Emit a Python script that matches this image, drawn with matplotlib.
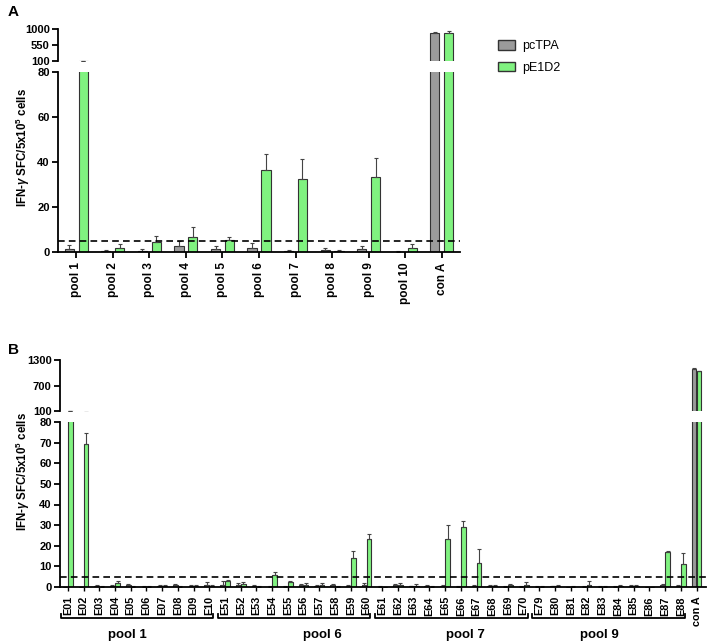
import numpy as np
import matplotlib.pyplot as plt
from matplotlib.patches import Patch
import matplotlib.transforms as mtransforms

plt.rcParams['font.family'] = ['Liberation Sans', 'DejaVu Sans']
plt.rcParams['font.weight'] = 'bold'
plt.rcParams['mathtext.fontset'] = 'custom'
plt.rcParams['mathtext.rm'] = 'Liberation Sans:bold'
plt.rcParams['mathtext.it'] = 'Liberation Sans:italic:bold'
plt.rcParams['mathtext.bf'] = 'Liberation Sans:bold'

# panel A data
pools_a = ["pool 1", "pool 2", "pool 3", "pool 4", "pool 5", "pool 6",
           "pool 7", "pool 8", "pool 9", "pool 10", "con A"]
tpa_a = [1.5, 0.5, 0.5, 2.5, 1.5, 2.0, 0.5, 1.0, 1.5, 0.2, 890]
tpa_a_err = [1.5, 0.5, 0.7, 2.5, 1.2, 2.0, 0.5, 0.8, 1.0, 0.3, 15]
e1d2_a = [110, 2.0, 4.5, 6.5, 5.5, 36.6, 32.6, 0.5, 33.4, 2.0, 880]
e1d2_a_err = [3, 1.5, 2.5, 4.5, 1.0, 7.0, 8.8, 0.5, 8.5, 1.5, 50]

# panel B data
peptides_b = ["E01", "E02", "E03", "E04", "E05", "E06", "E07", "E08", "E09", "E10",
              "E51", "E52", "E53", "E54", "E55", "E56", "E57", "E58", "E59", "E60",
              "E61", "E62", "E63", "E64", "E65", "E66", "E67", "E68", "E69", "E70",
              "E79", "E80", "E81", "E82", "E83", "E84", "E85", "E86", "E87", "E88",
              "con A"]
tpa_b = [0.0, 0.0, 0.5, 0.5, 1.0, 0.2, 0.5, 1.0, 0.3, 1.2,
         1.0, 1.0, 0.5, 0.2, 0.2, 1.0, 0.3, 1.0, 0.5, 1.0,
         0.2, 1.0, 0.3, 0.5, 0.5, 0.2, 0.5, 0.5, 0.2, 0.2,
         0.2, 0.3, 0.0, 0.2, 0.2, 0.2, 0.5, 0.0, 1.0, 0.5,
         1090]
tpa_b_err = [0.0, 0.0, 0.5, 0.5, 0.5, 0.2, 0.5, 0.5, 0.5, 1.0,
             2.0, 0.8, 0.5, 0.2, 0.3, 0.5, 0.5, 0.5, 0.7, 1.0,
             0.2, 0.5, 0.3, 0.5, 0.3, 0.2, 0.5, 0.5, 0.2, 0.2,
             0.2, 0.3, 0.0, 0.2, 0.2, 0.2, 0.5, 0.0, 0.5, 0.5,
             15]
e1d2_b = [103, 69.5, 0.2, 2.0, 0.2, 0.2, 0.5, 0.2, 0.5, 0.5,
          3.0, 1.5, 0.2, 5.8, 2.5, 1.0, 1.0, 0.2, 14.0, 23.3,
          0.0, 1.0, 0.5, 0.2, 23.3, 29.0, 11.6, 0.5, 1.0, 1.0,
          0.2, 0.5, 0.2, 1.2, 0.2, 0.5, 0.5, 0.0, 17.0, 11.2,
          1040]
e1d2_b_err = [1.0, 5.0, 0.2, 1.0, 0.2, 0.2, 0.5, 0.2, 0.5, 0.5,
              0.5, 1.0, 0.2, 1.5, 0.5, 1.0, 1.0, 0.2, 3.5, 2.4,
              0.0, 1.0, 1.0, 0.2, 6.7, 3.0, 6.8, 0.5, 0.5, 1.5,
              0.2, 0.3, 0.2, 1.5, 0.2, 0.3, 0.5, 0.0, 0.5, 5.3,
              10]
groups_b = ["pool 1", "pool 6", "pool 7", "pool 9"]

gray = "#9b9b9b"
green = "#80f280"
edge = "#333333"

fig = plt.figure(figsize=(7.08, 6.43), dpi=100)


def draw_bars(ax, x, a, a_err, b, b_err, off, w):
    for vals, errs, col, sign in [(a, a_err, gray, -1), (b, b_err, green, 1)]:
        xx = x + sign * off
        ax.bar(xx, vals, width=w, color=col, edgecolor=edge, linewidth=0.8, zorder=2)
        ax.errorbar(xx, vals, yerr=[np.zeros(len(vals)), errs], fmt="none",
                    ecolor="#444444", elinewidth=0.8, capsize=1.2, capthick=0.8, zorder=2)


def style(ax, top):
    for s in ["top", "right"]:
        ax.spines[s].set_visible(False)
    ax.spines["left"].set_linewidth(1.3)
    ax.tick_params(axis="y", width=1.3, length=4, labelsize=8, pad=2)
    if top:
        ax.spines["bottom"].set_visible(False)
        ax.set_xticks([])
    else:
        ax.spines["bottom"].set_linewidth(1.3)
        ax.tick_params(axis="x", width=1.3, length=4)


# ---------- panel A ----------
xa = np.arange(len(pools_a))
axa = fig.add_axes([58 / 708, 1 - 252 / 643, 402 / 708, 180 / 643])
axa_t = fig.add_axes([58 / 708, 1 - 61 / 643, 402 / 708, 32 / 643])
for ax in (axa, axa_t):
    draw_bars(ax, xa, tpa_a, tpa_a_err, e1d2_a, e1d2_a_err, 0.19, 0.25)
    ax.set_xlim(-0.5, 10.5)
axa.set_ylim(0, 80)
axa.set_yticks([0, 20, 40, 60, 80])
axa_t.set_ylim(100, 1000)
axa_t.set_yticks([100, 550, 1000])
style(axa, False)
style(axa_t, True)
axa.axhline(5, color="black", ls=(0, (4, 2.5)), lw=1.2, zorder=3)
axa.set_xticks(xa)
axa.set_xticklabels(pools_a, rotation=90, fontsize=8.5, fontweight="bold")

fig.text(8 / 708, 1 - 12 / 643, "A", fontsize=11, fontweight="bold", va="center")
fig.text(23 / 708, 1 - 148 / 643, r"IFN-$\gamma$ SFC/5x10$^{5}$ cells", rotation=90,
         fontsize=8.3, fontweight="bold", ha="center", va="center")
fig.legend(handles=[Patch(facecolor=gray, edgecolor=edge, label="pcTPA"),
                    Patch(facecolor=green, edgecolor=edge, label="pE1D2")],
           loc="upper left", bbox_to_anchor=(487 / 708, 1 - 29 / 643), frameon=False,
           prop={"size": 9, "weight": "normal"}, handlelength=1.3, handleheight=0.8,
           handletextpad=0.6, labelspacing=0.75)

# ---------- panel B ----------
xb = np.arange(len(peptides_b))
axb = fig.add_axes([60 / 708, 1 - 587 / 643, 646 / 708, 165 / 643])
axb_t = fig.add_axes([60 / 708, 1 - 411 / 643, 646 / 708, 51 / 643])
for ax in (axb, axb_t):
    draw_bars(ax, xb, tpa_b, tpa_b_err, e1d2_b, e1d2_b_err, 0.16, 0.3)
    ax.set_xlim(-0.5, 40.6)
axb.set_ylim(0, 80)
axb.set_yticks(np.arange(0, 81, 10))
axb_t.set_ylim(100, 1300)
axb_t.set_yticks([100, 700, 1300])
style(axb, False)
style(axb_t, True)
axb.axhline(5, color="black", ls=(0, (4, 2.5)), lw=1.2, zorder=3)
axb.set_xticks(xb)
axb.set_xticklabels(peptides_b, rotation=90, fontsize=7.8, fontweight="bold")
axb.tick_params(axis="x", length=3, width=1)

fig.text(8 / 708, 1 - 350 / 643, "B", fontsize=11, fontweight="bold", va="center")
fig.text(23 / 708, 1 - 472 / 643, r"IFN-$\gamma$ SFC/5x10$^{5}$ cells", rotation=90,
         fontsize=8.3, fontweight="bold", ha="center", va="center")

# brackets under peptide groups
trans = mtransforms.blended_transform_factory(axb.transData, axb.transAxes)
label_x = [3.8, 16.2, 25.3, 33.8]
for i, name in enumerate(groups_b):
    x0 = i * 10 - 0.45
    x1 = i * 10 + 9.25
    axb.plot([x0, x0, x1, x1], [-0.165, -0.19, -0.19, -0.165], color="black", lw=1.3,
             transform=trans, clip_on=False)
    axb.text(label_x[i], -0.29, name, transform=trans, ha="center", va="center",
             fontsize=9.5, fontweight="bold")

fig.savefig("out.png", dpi=100)
